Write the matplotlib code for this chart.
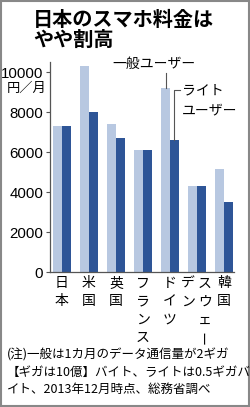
import matplotlib
matplotlib.use("Agg")
import matplotlib.pyplot as plt
from matplotlib.patches import Rectangle

countries = ["日本", "米国", "英国", "フランス", "ドイツ", "スウェーデン", "韓国"]
# vertical label columns (right column first)
label_columns = [["日本"], ["米国"], ["英国"], ["フランス"], ["ドイツ"], ["スウェー", "デン"], ["韓国"]]
general_user = [7300, 10300, 7400, 6100, 9200, 4300, 5150]
light_user = [7300, 8000, 6700, 6100, 6600, 4300, 3500]
yticks = [0, 2000, 4000, 6000, 8000, 10000]
title_lines = ["日本のスマホ料金は", "やや割高"]
unit_label = "円／月"
legend_general = "一般ユーザー"
legend_light = ["ライト", "ユーザー"]
note_lines = ["(注)一般は1カ月のデータ通信量が2ギガ",
              "【ギガは10億】バイト、ライトは0.5ギガバ",
              "イト、2013年12月時点、総務省調べ"]

JP = ["Noto Sans CJK JP", "DejaVu Sans"]
NUM = ["Liberation Sans", "DejaVu Sans"]
plt.rcParams['font.family'] = JP

LIGHT = "#b8c8e1"
DARK = "#2e5597"
W, H = 250, 407
fig = plt.figure(figsize=(W / 100, H / 100), dpi=100)

def fx(px):
    return px / W

def fy(py):
    return 1 - py / H

ax = fig.add_axes([fx(50), fy(272), fx(234) - fx(50), fy(62) - fy(272)])
x = list(range(len(countries)))
bw = 0.33
ax.bar([i - bw / 2 for i in x], general_user, width=bw, color=LIGHT, linewidth=0)
ax.bar([i + bw / 2 for i in x], light_user, width=bw, color=DARK, linewidth=0)
ax.set_xlim(-0.44, 6.37)
ax.set_ylim(0, 10500)
ax.set_yticks(yticks)
ax.set_yticklabels([str(v) for v in yticks], family=NUM, fontsize=10.8)
ax.set_xticks([])
for s in ["top", "right"]:
    ax.spines[s].set_visible(False)
for s in ["left", "bottom"]:
    ax.spines[s].set_color("#555555")
    ax.spines[s].set_linewidth(0.9)
ax.tick_params(axis="y", direction="out", length=3, width=0.8, color="#555555", pad=2)

# vertical category labels
for i, cols in enumerate(label_columns):
    n = len(cols)
    offs = [0] if n == 1 else [8, -9]
    for c, col in enumerate(cols):
        for k, ch in enumerate(col):
            ax.annotate(ch, xy=(i, 0), xycoords="data",
                        xytext=(offs[c], -(11.5 + 18 * k)), textcoords="offset pixels",
                        ha="center", va="center", fontsize=10,
                        rotation=90 if ch == "ー" else 0, annotation_clip=False)

# legend leaders
gi = countries.index("ドイツ")
ax.plot([gi - 0.15, gi - 0.15], [general_user[gi], 9950], color="#555555", lw=0.8, clip_on=False)
ax.text(3.41, 10400, legend_general, ha="center", va="center", fontsize=10)
ax.plot([gi + bw / 2, gi + bw / 2, gi + 0.37], [light_user[gi], 9100, 9100],
        color="#555555", lw=0.8, clip_on=False)
ax.text(4.45, 9100, legend_light[0], ha="left", va="center", fontsize=10)
ax.text(4.45, 8100, legend_light[1], ha="left", va="center", fontsize=10)

# title
fig.text(fx(33), fy(19), title_lines[0], ha="left", va="center", fontsize=14.5, fontweight="bold")
fig.text(fx(33), fy(39), title_lines[1], ha="left", va="center", fontsize=14.5, fontweight="bold")
# unit
fig.text(fx(46), fy(88), unit_label, ha="right", va="center", fontsize=9.5)
# notes
for j, line in enumerate(note_lines):
    fig.text(fx(7), fy(355 + 17 * j), line, ha="left", va="center", fontsize=9)

fig.patches.append(Rectangle((0.002, 0.002), 0.994, 0.995, transform=fig.transFigure,
                             fill=False, edgecolor="#888888", linewidth=1.5))
fig.savefig("out.png", dpi=100)
